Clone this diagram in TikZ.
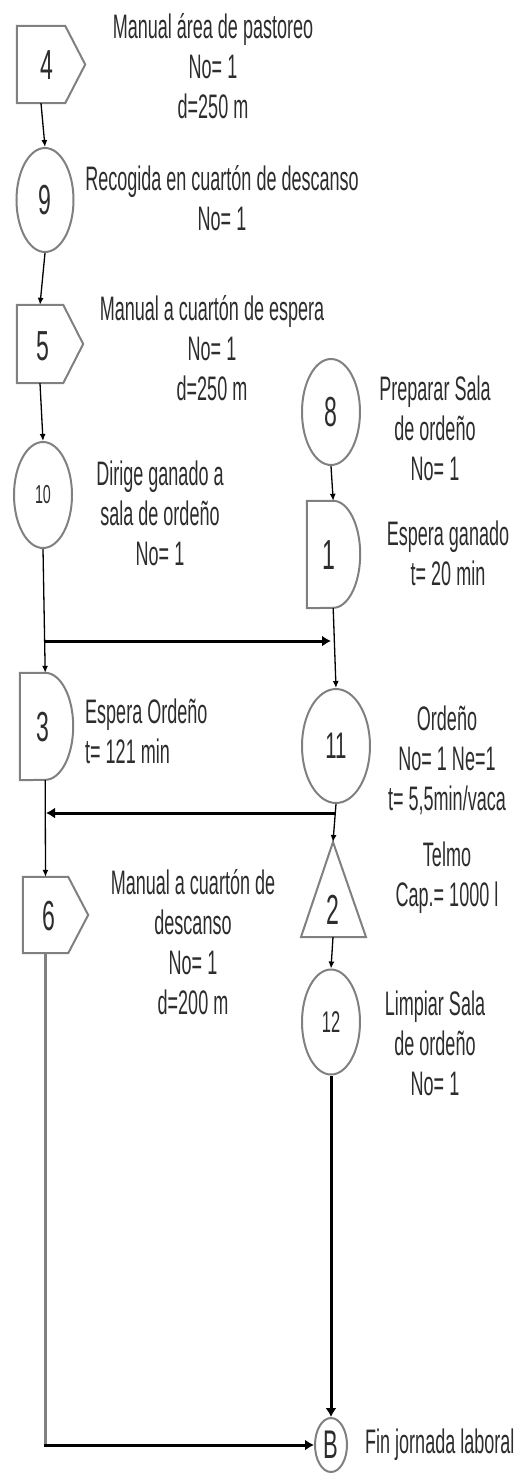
\documentclass[tikz,border=0pt]{standalone}
\usepackage{fontspec}
\setmainfont{Liberation Sans}[FakeStretch=0.53]
\newfontfamily\numfont{Liberation Sans}[FakeStretch=0.55]
\usetikzlibrary{shapes.geometric,arrows.meta,calc}
\definecolor{shp}{RGB}{128,128,128}
\definecolor{txt}{RGB}{45,45,45}
\tikzset{
 shapeline/.style={draw=shp, line width=2pt, line join=miter},
 circ/.style={ellipse, shapeline, inner sep=0pt, text=txt, font=\numfont\fontsize{42}{42}\selectfont},
 body/.style={inner sep=0pt, draw=none},
 num/.style={inner sep=0pt, text=txt, font=\numfont\fontsize{42}{42}\selectfont},
 lbl/.style={inner sep=0pt, align=center, text=txt, font=\fontsize{34}{40}\selectfont},
 flow/.style={draw=black, line width=1.3pt, -{Latex[length=7pt,width=6pt]}},
 bold/.style={draw=black, line width=3pt, -{Latex[length=9pt,width=11pt]}},
 greyline/.style={draw=shp, line width=3pt},
}
\begin{document}
\begin{tikzpicture}[x=1pt,y=-1pt]
\useasboundingbox (0,0) rectangle (516,1473);

% ---- left column ----
\node[body, minimum width=48pt, minimum height=77pt] (n4) at (41,64.5) {};
\draw[shapeline] (n4.north west) -- (n4.north east) -- ($(n4.east)+(20,0)$) -- (n4.south east) -- (n4.south west) -- cycle;
\node[num] (n4t) at (47,65) {4};

\node[circ, minimum width=57pt, minimum height=104pt] (n9) at (45,200) {9};

\node[body, minimum width=46pt, minimum height=78pt] (n5) at (40,344) {};
\draw[shapeline] (n5.north west) -- (n5.north east) -- ($(n5.east)+(20,0)$) -- (n5.south east) -- (n5.south west) -- cycle;
\node[num] (n5t) at (43,346) {5};

\node[circ, minimum width=58pt, minimum height=106pt, font=\numfont\fontsize{26}{26}\selectfont] (n10) at (43,495) {10};

\node[body, minimum width=25pt, minimum height=107pt] (n3) at (32.5,726.5) {};
\draw[shapeline] (n3.north west) -- (n3.north east) arc[start angle=90, end angle=-90, x radius=28pt, y radius=53.5pt] -- (n3.south west) -- cycle;
\node[num] (n3t) at (43,727) {3};

\node[body, minimum width=45pt, minimum height=76pt] (n6) at (45.5,915) {};
\draw[shapeline] (n6.north west) -- (n6.north east) -- ($(n6.east)+(20,0)$) -- (n6.south east) -- (n6.south west) -- cycle;
\node[num] (n6t) at (49,916) {6};

% ---- right column ----
\node[circ, minimum width=58pt, minimum height=106pt] (n8) at (331,412) {8};

\node[body, minimum width=26pt, minimum height=107pt] (n1) at (320,554.5) {};
\draw[shapeline] (n1.north west) -- (n1.north east) arc[start angle=90, end angle=-90, x radius=27pt, y radius=53.5pt] -- (n1.south west) -- cycle;
\node[num] (n1t) at (329,555) {1};

\node[circ, minimum width=68pt, minimum height=114pt, font=\numfont\fontsize{37}{37}\selectfont] (n11) at (336,746) {11};

\coordinate (t2a) at (333,842);
\coordinate (t2r) at (366,937);
\coordinate (t2l) at (301,937);
\coordinate (t2b) at (333,937);
\draw[shapeline] (t2a) -- (t2r) -- (t2l) -- cycle;
\node[num] (n2t) at (333,910) {2};

\node[circ, minimum width=58pt, minimum height=105pt, font=\numfont\fontsize{30}{30}\selectfont] (n12) at (331,1022) {12};

\node[circ, minimum width=32pt, minimum height=54pt, font=\numfont\fontsize{40}{40}\selectfont] (nB) at (331,1445) {B};

% ---- junctions ----
\coordinate (j1) at (45,641);
\coordinate (j2) at (331,641);
\coordinate (j3) at (335,813);
\coordinate (j4) at (46,813);
\coordinate (j5) at (n6.south |- nB.west);

% ---- connectors ----
\draw[flow] (n4.south) -- (n9.north);
\draw[flow] (n9.south) -- (n5.south |- n5.north);
\draw[flow] (n5.south) -- (n10.north);
\draw[flow] (n10.south) -- (n3.north east);
\draw[flow] (n8.south) -- (n1.north east);
\draw[flow] (n1.south east) -- (n11.north);
\draw[flow] (n3.south east) -- (n6.north);
\draw[flow] (n11.south) -- (t2a);
\draw[flow] (t2b) -- (n12.north);
\draw[bold] (j1) -- (j2);
\draw[bold] (j3) -- (j4);
\draw[bold] (n12.south) -- (nB.north);
\draw[greyline] (n6.south) -- (j5);
\draw[bold] ([xshift=-1.5pt]j5) -- (nB.west);

% ---- labels ----
\node[lbl] (l4) at (213,66) {Manual área de pastoreo\\No= 1\\d=250 m};
\node[lbl] (l9) at (222,198) {Recogida en cuartón de descanso\\No= 1};
\node[lbl] (l5) at (212,348) {Manual a cuartón de espera\\No= 1\\d=250 m};
\node[lbl] (l8) at (435,428) {Preparar Sala\\de ordeño\\No= 1};
\node[lbl] (l1) at (448,553) {Espera ganado\\t= 20 min};
\node[lbl] (l10) at (160,513) {Dirige ganado a\\sala de ordeño\\No= 1};
\node[lbl, align=left, anchor=west] (l3) at (85,731) {Espera Ordeño\\t= 121 min};
\node[lbl] (l11) at (447,760) {Ordeño\\No= 1 Ne=1\\t= 5,5min/vaca};
\node[lbl] (l2) at (447,878) {Telmo\\Cap.= 1000 l};
\node[lbl] (l6) at (193,942) {Manual a cuartón de\\descanso\\No= 1\\d=200 m};
\node[lbl] (l12) at (435,1043) {Limpiar Sala\\de ordeño\\No= 1};
\node[lbl, anchor=west] (lB) at (365,1445) {Fin jornada laboral};
\end{tikzpicture}
\end{document}
